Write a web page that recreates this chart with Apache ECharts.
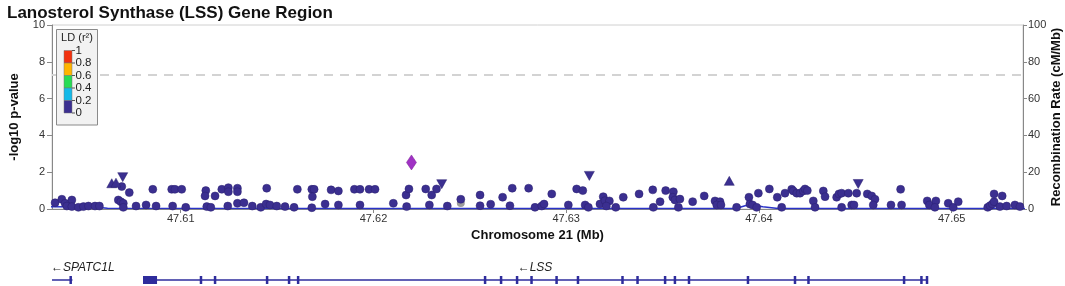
<!DOCTYPE html>
<html>
<head>
<meta charset="utf-8">
<script src="https://cdn.jsdelivr.net/npm/echarts@6/dist/echarts.min.js"></script>
<style>
html, body { margin: 0; padding: 0; background: #fff; }
#chart { width: 1065px; height: 286px; }
</style>
</head>
<body>
<div id="chart"></div>
<script>
// SNP 位置 (Mb) 和 -log10 p
let snpPos = [47.60348, 47.60383, 47.60400, 47.60435, 47.60409, 47.60435, 47.60469, 47.60495, 47.60521, 47.60555,
    47.60578, 47.60694, 47.60733, 47.60676, 47.60689, 47.60702, 47.60702, 47.60768, 47.60820, 47.60855,
    47.60872, 47.60953, 47.60970, 47.61005, 47.60958, 47.61026, 47.61130, 47.61126, 47.61178, 47.61135,
    47.61156, 47.61213, 47.61247, 47.61247, 47.61294, 47.61294, 47.61244, 47.61294, 47.61328, 47.61371,
    47.61415, 47.61446, 47.61443, 47.61463, 47.61498, 47.61541, 47.61588, 47.61605, 47.61680, 47.61692,
    47.61683, 47.61680, 47.61749, 47.61780, 47.61818, 47.61818, 47.61901, 47.61930, 47.61930, 47.61977,
    47.62008, 47.62103, 47.62169, 47.62184, 47.62172, 47.62271, 47.62302, 47.62327, 47.62290, 47.62383,
    47.62453, 47.62553, 47.62553, 47.62608, 47.62670, 47.62720, 47.62708, 47.62805, 47.62838, 47.62873,
    47.62885, 47.62925, 47.63011, 47.63054, 47.63086, 47.63098, 47.63115, 47.63175, 47.63192, 47.63201,
    47.63224, 47.63208, 47.63257, 47.63296, 47.63378, 47.63449, 47.63487, 47.63452, 47.63516, 47.63556,
    47.63553, 47.63564, 47.63590, 47.63582, 47.63656, 47.63716, 47.63772, 47.63798, 47.63781, 47.63803,
    47.63884, 47.63948, 47.63953, 47.63967, 47.63997, 47.63988, 47.64054, 47.64095, 47.64135, 47.64118,
    47.64170, 47.64178, 47.64196, 47.64213, 47.64230, 47.64239, 47.64251, 47.64282, 47.64291, 47.64334,
    47.64343, 47.64403, 47.64415, 47.64429, 47.64429, 47.64464, 47.64481, 47.64493, 47.64507, 47.64562,
    47.64585, 47.64602, 47.64593, 47.64685, 47.64735, 47.64740, 47.64873, 47.64884, 47.64918, 47.64913,
    47.64982, 47.65008, 47.65034, 47.65187, 47.65199, 47.65211, 47.65220, 47.65220, 47.65262, 47.65250,
    47.65285, 47.65328, 47.65354]
let snpLogP = [0.34, 0.53, 0.31, 0.49, 0.16, 0.13, 0.09, 0.13, 0.16, 0.16,
    0.16, 1.22, 0.89, 0.49, 0.40, 0.31, 0.09, 0.16, 0.22, 1.07,
    0.16, 1.07, 1.07, 1.07, 0.16, 0.09, 1.00, 0.71, 0.71, 0.13,
    0.09, 1.07, 1.16, 0.94, 1.13, 0.94, 0.16, 0.31, 0.34, 0.16,
    0.09, 1.13, 0.27, 0.22, 0.16, 0.13, 0.09, 1.07, 1.07, 1.07,
    0.67, 0.07, 0.27, 1.04, 0.98, 0.22, 1.07, 1.07, 0.22, 1.07,
    1.07, 0.31, 0.76, 1.09, 0.13, 1.09, 0.76, 1.09, 0.22, 0.16,
    0.53, 0.76, 0.18, 0.26, 0.64, 1.13, 0.18, 1.13, 0.09, 0.16,
    0.27, 0.82, 0.22, 1.09, 1.00, 0.22, 0.09, 0.27, 0.67, 0.45,
    0.44, 0.16, 0.09, 0.64, 0.82, 1.04, 0.40, 0.09, 1.00, 0.94,
    0.64, 0.49, 0.54, 0.09, 0.40, 0.71, 0.44, 0.40, 0.22, 0.22,
    0.09, 0.64, 0.27, 0.22, 0.86, 0.09, 1.09, 0.64, 0.86, 0.09,
    1.07, 0.98, 0.86, 0.86, 0.98, 1.09, 1.00, 0.44, 0.09, 0.98,
    0.67, 0.64, 0.82, 0.86, 0.09, 0.86, 0.22, 0.22, 0.86, 0.82,
    0.71, 0.53, 0.22, 0.22, 1.07, 0.22, 0.44, 0.22, 0.44, 0.09,
    0.31, 0.09, 0.40, 0.09, 0.18, 0.27, 0.40, 0.82, 0.71, 0.13,
    0.16, 0.22, 0.13]

// 三角形标记
let upPos = [47.60642, 47.60664, 47.63846]
let upLogP = [1.40, 1.43, 1.53]
let downPos = [47.60699, 47.62354, 47.63120, 47.64515]
let downLogP = [1.73, 1.35, 1.80, 1.36]

// 先导 SNP / 无 LD 信息
let leadPos = [47.62197]
let leadLogP = [2.53]
let greyPos = [47.62453]
let greyLogP = [0.33]

// 重组率
let recombPos = [47.6030, 47.6055, 47.6062, 47.6200, 47.6388, 47.6395, 47.6402, 47.6410, 47.6540]
let recombRate = [1.2, 1.1, 0.4, 0.3, 0.3, 2.4, 1.2, 0.3, 0.3]

// 坐标轴刻度
let xTicks = [47.61, 47.62, 47.63, 47.64, 47.65]
let leftTicks = [0, 2, 4, 6, 8, 10]
let rightTicks = [0, 20, 40, 60, 80, 100]
let sigLine = 7.3

// LD 图例
let ldBreaks = ['1', '0.8', '0.6', '0.4', '0.2', '0']
let ldColors = ['#f2320f', '#ffb400', '#27dc55', '#14b9e8', '#3b2f90']

// 基因
let geneNames = ['SPATC1L', 'LSS']
let geneStart = [47.6010, 47.60804]
let geneEnd = [47.60438, 47.64872]
let geneExons = [
    [[47.60424, 47.60434]],
    [[47.60804, 47.60877], [47.61100, 47.61110], [47.61173, 47.61183], [47.61442, 47.61454], [47.61557, 47.61567],
     [47.61604, 47.61614], [47.62574, 47.62584], [47.62657, 47.62667], [47.62739, 47.62751], [47.62815, 47.62825],
     [47.62945, 47.62955], [47.63056, 47.63066], [47.63287, 47.63297], [47.63365, 47.63375], [47.63507, 47.63519],
     [47.63558, 47.63570], [47.63631, 47.63643], [47.63937, 47.63949], [47.64181, 47.64193], [47.64251, 47.64263],
     [47.64747, 47.64759], [47.64837, 47.64849], [47.64866, 47.64878]]
]

let xMin = 47.60332
let xMax = 47.6537
let dotColor = '#3b2f90'
let geneColor = '#2e2c9c'
let fontName = 'Liberation Sans, Arial, sans-serif'

let zip = (a, b) => a.map((v, i) => [v, b[i]])

let chart = echarts.init(document.getElementById('chart'), null, { renderer: 'canvas' })

let axisFont = { fontFamily: fontName, fontSize: 11, color: '#333' }

let legendItems = [
    { type: 'rect', z: 100, shape: { x: 56.5, y: 29.5, width: 41, height: 95.5 }, style: { fill: '#f2f2f2', stroke: '#8a8a8a', lineWidth: 1 } },
    { type: 'text', z: 101, style: { x: 77, y: 38, text: 'LD (r²)', align: 'center', verticalAlign: 'middle', fill: '#222', font: '11px ' + fontName } }
]
ldColors.forEach((c, i) => {
    legendItems.push({ type: 'rect', z: 101, shape: { x: 64, y: 50.5 + i * 12.5, width: 8, height: 12.5 }, style: { fill: c, stroke: '#777', lineWidth: 0.5 } })
})
ldBreaks.forEach((t, i) => {
    legendItems.push({ type: 'line', z: 101, shape: { x1: 72, y1: 50.5 + i * 12.5, x2: 75, y2: 50.5 + i * 12.5 }, style: { stroke: '#555', lineWidth: 1 } })
    legendItems.push({ type: 'text', z: 101, style: { x: 75.5, y: 50.5 + i * 12.5, text: t, align: 'left', verticalAlign: 'middle', fill: '#222', font: '11.5px ' + fontName } })
})

let option = {
    animation: false,
    backgroundColor: '#fff',
    title: {
        text: 'Lanosterol Synthase (LSS) Gene Region',
        left: 2, top: 0,
        textStyle: { fontFamily: fontName, fontSize: 17, fontWeight: 'bold', color: '#111' }
    },
    graphic: legendItems,
    grid: [
        { left: 52, right: 42, top: 25, height: 184, show: true, borderColor: '#d0d0d0', borderWidth: 1, containLabel: false, outerBoundsMode: 'none' },
        { left: 52, right: 42, top: 262, height: 36, containLabel: false, outerBoundsMode: 'none' }
    ],
    xAxis: [
        {
            type: 'value', gridIndex: 0, min: xMin, max: xMax,
            name: 'Chromosome 21 (Mb)', nameLocation: 'middle', nameGap: 20, nameMoveOverlap: false,
            nameTextStyle: { fontFamily: fontName, fontSize: 13, fontWeight: 'bold', color: '#111' },
            axisLine: { show: true, onZero: false, lineStyle: { color: '#888' } },
            axisTick: { show: true, length: 4, customValues: xTicks, lineStyle: { color: '#888' } },
            axisLabel: Object.assign({ margin: 4, customValues: xTicks, formatter: v => v.toFixed(2) }, axisFont),
            splitLine: { show: false }
        },
        { type: 'value', gridIndex: 1, min: xMin, max: xMax, show: false, splitLine: { show: false } }
    ],
    yAxis: [
        {
            type: 'value', gridIndex: 0, min: 0, max: 10, position: 'left',
            name: '-log10 p-value', nameLocation: 'middle', nameGap: 31, nameMoveOverlap: false,
            nameTextStyle: { fontFamily: fontName, fontSize: 13, fontWeight: 'bold', color: '#111' },
            axisLine: { show: true, lineStyle: { color: '#888' } },
            axisTick: { show: true, length: 5, customValues: leftTicks, lineStyle: { color: '#888' } },
            axisLabel: Object.assign({ margin: 7, customValues: leftTicks }, axisFont),
            splitLine: { show: false }
        },
        {
            type: 'value', gridIndex: 0, min: 0, max: 100, position: 'right',
            name: 'Recombination Rate (cM/Mb)', nameLocation: 'middle', nameGap: 27, nameRotate: 90, nameMoveOverlap: false,
            nameTextStyle: { fontFamily: fontName, fontSize: 13, fontWeight: 'bold', color: '#111' },
            axisLine: { show: true, lineStyle: { color: '#888' } },
            axisTick: { show: true, length: 4, customValues: rightTicks, lineStyle: { color: '#888' } },
            axisLabel: Object.assign({ margin: 5, customValues: rightTicks }, axisFont),
            splitLine: { show: false }
        },
        { type: 'value', gridIndex: 1, min: -1, max: 1, show: false, splitLine: { show: false } }
    ],
    series: [
        {
            type: 'line', xAxisIndex: 0, yAxisIndex: 1,
            data: zip(recombPos, recombRate),
            showSymbol: false, smooth: false, z: 1,
            lineStyle: { color: '#2a33c8', width: 1.6 }
        },
        {
            type: 'scatter', xAxisIndex: 0, yAxisIndex: 0,
            data: zip(snpPos, snpLogP),
            symbol: 'circle', symbolSize: 8, z: 3,
            itemStyle: { color: dotColor, borderColor: '#2a2070', borderWidth: 0.5, opacity: 1 },
            markLine: {
                silent: true, symbol: 'none', label: { show: false },
                lineStyle: { type: [9, 7], color: '#d3d3d3', width: 2 },
                data: [{ yAxis: sigLine }]
            }
        },
        {
            type: 'scatter', xAxisIndex: 0, yAxisIndex: 0,
            data: zip(upPos, upLogP),
            symbol: 'triangle', symbolSize: [10, 9], z: 3,
            itemStyle: { color: dotColor, borderColor: '#2a2070', borderWidth: 0.5, opacity: 1 }
        },
        {
            type: 'scatter', xAxisIndex: 0, yAxisIndex: 0,
            data: zip(downPos, downLogP),
            symbol: 'triangle', symbolRotate: 180, symbolSize: [10, 9], z: 3,
            itemStyle: { color: dotColor, borderColor: '#2a2070', borderWidth: 0.5, opacity: 1 }
        },
        {
            type: 'scatter', xAxisIndex: 0, yAxisIndex: 0,
            data: zip(greyPos, greyLogP),
            symbol: 'circle', symbolSize: 8, z: 2,
            itemStyle: { color: '#9c9c9c', opacity: 1 }
        },
        {
            type: 'scatter', xAxisIndex: 0, yAxisIndex: 0,
            data: zip(leadPos, leadLogP),
            symbol: 'diamond', symbolSize: [10, 15], z: 4,
            itemStyle: { color: '#a032c4', borderColor: '#7a2096', borderWidth: 0.5, opacity: 1 }
        },
        {
            type: 'custom', xAxisIndex: 1, yAxisIndex: 2,
            data: geneNames.map((n, i) => [geneStart[i], geneEnd[i]]),
            renderItem: function (params, api) {
                let i = params.dataIndex
                let cs = params.coordSys
                let a = api.coord([geneStart[i], 0])
                let b = api.coord([geneEnd[i], 0])
                let y = a[1]
                let x1 = Math.max(a[0], cs.x)
                let x2 = Math.min(b[0], cs.x + cs.width)
                let kids = [{
                    type: 'line',
                    shape: { x1: x1, y1: y, x2: x2, y2: y },
                    style: { stroke: geneColor, lineWidth: 1.5 }
                }]
                geneExons[i].forEach(e => {
                    let s = api.coord([e[0], 0])[0]
                    let t = api.coord([e[1], 0])[0]
                    let w = Math.max(t - s, 2.5)
                    kids.push({
                        type: 'rect',
                        shape: { x: (s + t) / 2 - w / 2, y: y - 4, width: w, height: 8 },
                        style: { fill: geneColor }
                    })
                })
                let label = '\u2190' + geneNames[i]
                let mid = (a[0] + b[0]) / 2
                let half = label.length * 3.6
                let tx = mid, align = 'center'
                if (mid - half < cs.x) { tx = cs.x - 1; align = 'left' }
                kids.push({
                    type: 'text',
                    style: {
                        x: tx, y: y - 12, text: label, align: align, verticalAlign: 'middle',
                        fill: '#222', font: 'italic 12px ' + fontName
                    }
                })
                return { type: 'group', children: kids }
            }
        }
    ]
}

chart.setOption(option)
</script>
</body>
</html>
